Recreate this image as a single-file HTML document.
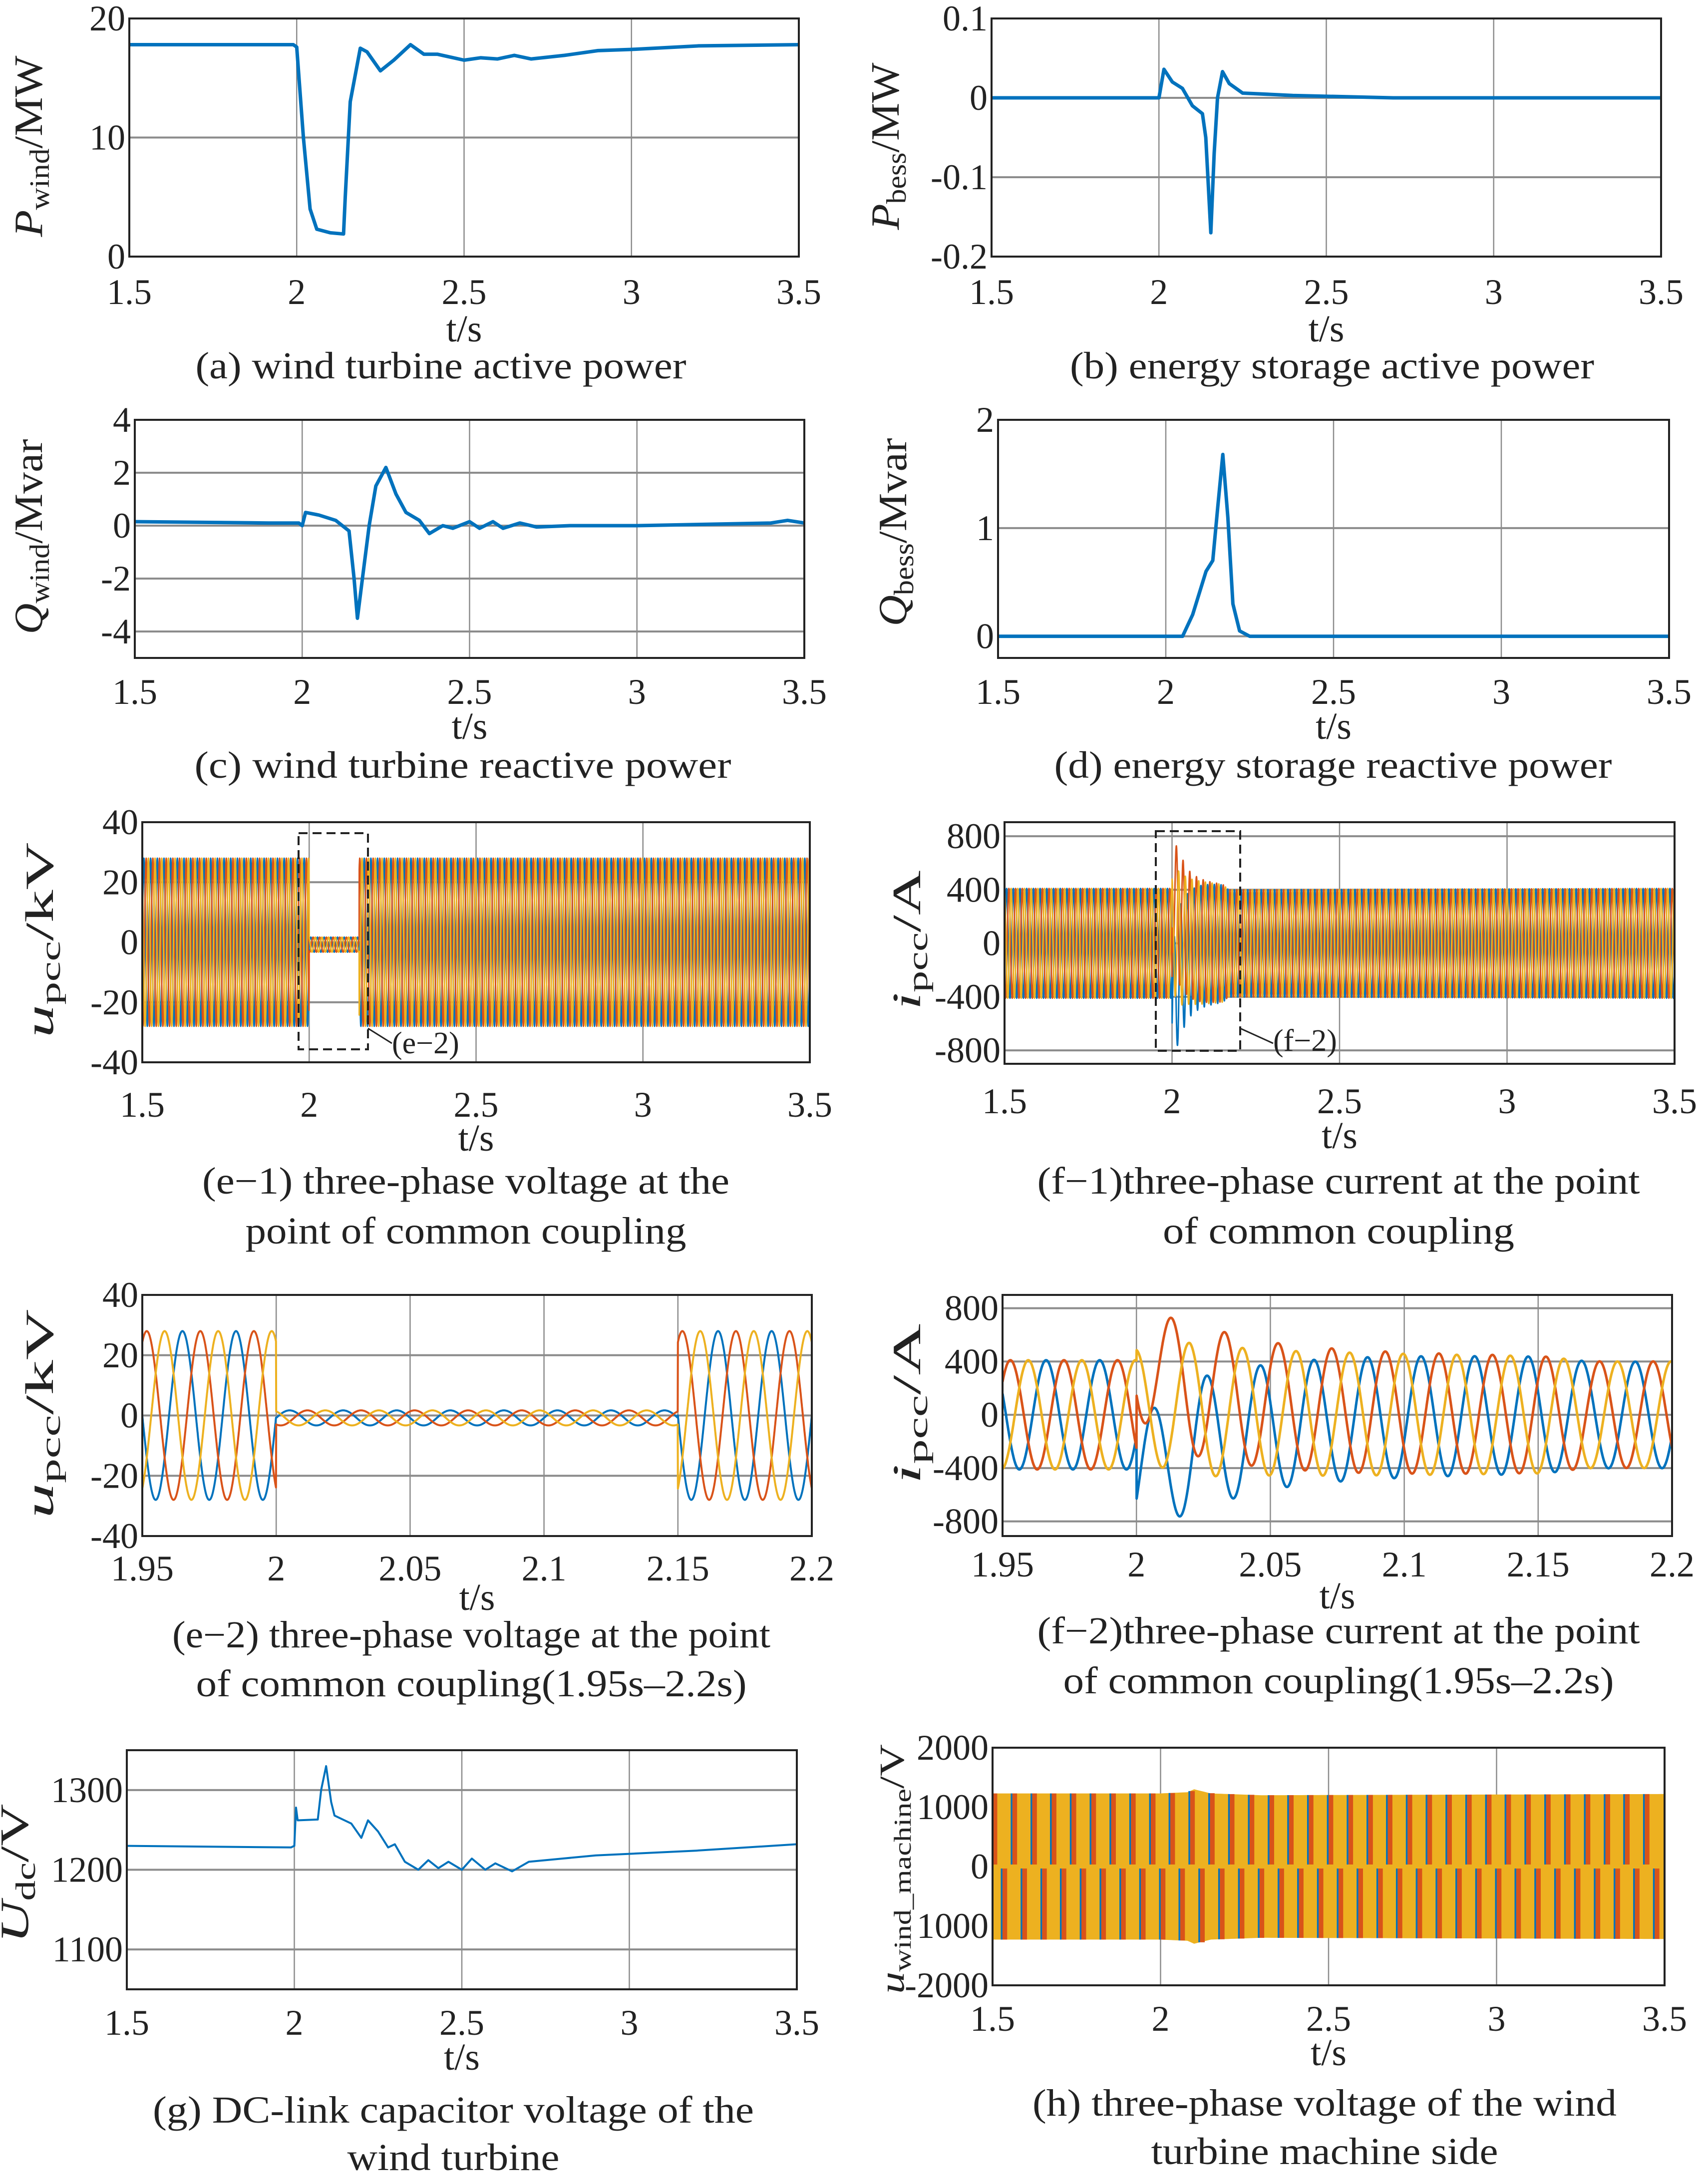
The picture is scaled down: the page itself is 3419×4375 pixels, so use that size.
<!DOCTYPE html>
<html><head><meta charset="utf-8"><title>Wind turbine fault response</title>
<style>
html,body{margin:0;padding:0;background:#fff;}
svg{display:block;font-family:"Liberation Serif",serif;}
</style></head>
<body>
<svg id="fig" width="3419" height="4375" viewBox="0 0 3419 4375" xmlns="http://www.w3.org/2000/svg"></svg>
<script>
// ---------- data ----------
const aT=[1.5,1.99,2.0,2.02,2.04,2.06,2.1,2.14,2.145,2.16,2.19,2.21,2.25,2.29,2.34,2.38,2.42,2.5,2.55,2.6,2.65,2.7,2.8,2.9,3.0,3.2,3.5];
const aV=[17.8,17.8,17.6,10,4,2.3,2.0,1.9,5,13,17.5,17.2,15.6,16.5,17.8,17.0,17.0,16.5,16.7,16.6,16.9,16.6,16.9,17.3,17.4,17.7,17.8];
const bT=[1.5,2.0,2.015,2.04,2.07,2.1,2.13,2.14,2.155,2.165,2.175,2.19,2.21,2.25,2.4,2.7,3.5];
const bV=[0,0,0.036,0.02,0.012,-0.01,-0.02,-0.05,-0.17,-0.07,0,0.033,0.018,0.006,0.003,0,0];
const cT=[1.5,1.9,1.99,2.0,2.01,2.05,2.1,2.14,2.155,2.165,2.18,2.2,2.22,2.25,2.28,2.31,2.35,2.38,2.42,2.45,2.5,2.53,2.57,2.6,2.65,2.7,2.8,3.0,3.4,3.45,3.5];
const cV=[0.15,0.1,0.1,0.0,0.5,0.4,0.2,-0.2,-2,-3.5,-2,0,1.5,2.2,1.2,0.5,0.2,-0.3,0,-0.1,0.15,-0.1,0.15,-0.1,0.1,-0.05,0,0,0.1,0.2,0.1];
const dT=[1.5,2.05,2.08,2.12,2.14,2.155,2.17,2.185,2.2,2.22,2.25,3.5];
const dV=[0,0,0.2,0.6,0.7,1.2,1.68,1.1,0.3,0.05,0,0];
const gT=[1.5,1.99,2.0,2.005,2.01,2.07,2.08,2.095,2.11,2.12,2.15,2.17,2.2,2.22,2.25,2.28,2.3,2.33,2.37,2.4,2.43,2.46,2.5,2.53,2.57,2.6,2.65,2.7,2.8,2.9,3.0,3.2,3.5];
const gV=[1230,1228,1230,1278,1262,1263,1300,1330,1285,1268,1262,1258,1240,1262,1248,1228,1232,1210,1200,1212,1202,1210,1200,1214,1200,1208,1198,1210,1214,1218,1220,1224,1232];
// three-phase voltage at PCC: amplitude per segment (kV)
const uSegT=[1.5,2.0,2.15];
const uSegA=[28,2.5,28];
const uOffset=[0,-0.8,0];
const phaseDeg=[0,120,240];
// PCC current envelope (A) and DC offsets at fault inception
const iEnvT=[1.5,2.0,2.02,2.05,2.15,2.17,3.5];
const iEnvA=[410,410,500,470,440,400,410];
const iDc=[-480,400,80];
// machine side voltage envelope (V)
const hT=[1.5,2.0,2.08,2.1,2.15,2.3,3.5];
const hA=[1230,1230,1250,1300,1230,1200,1220];
const hStripeT=[1.5,1.559,1.618,1.676,1.735,1.794,1.853,1.912,1.971,2.029,2.088,2.147,2.206,2.265,2.324,2.382,2.441,2.5,2.559,2.618,2.676,2.735,2.794,2.853,2.912,2.971,3.029,3.088,3.147,3.206,3.265,3.324,3.382,3.441];

const BLUE="#0072BD",ORANGE="#D95319",YELLOW="#EDB120";
const NS="http://www.w3.org/2000/svg";
const svg=document.getElementById('fig');
function mk(tag,attrs,parent){const e=document.createElementNS(NS,tag);for(const k in attrs)e.setAttribute(k,attrs[k]);(parent||svg).appendChild(e);return e;}
function interp(ts,vs,t){if(t<=ts[0])return vs[0];for(let i=1;i<ts.length;i++){if(t<=ts[i]){const f=(t-ts[i-1])/(ts[i]-ts[i-1]);return vs[i-1]+f*(vs[i]-vs[i-1]);}}return vs[vs.length-1];}
function step(ts,vs,t){let v=vs[0];for(let i=0;i<ts.length;i++){if(t>=ts[i])v=vs[i];}return v;}
function sx(p,t){return p.x0+(t-p.xmin)/(p.xmax-p.xmin)*(p.x1-p.x0);}
function sy(p,v){return p.y1-(v-p.ymin)/(p.ymax-p.ymin)*(p.y1-p.y0);}

function panel(p){
  const g=mk('g',{});
  
  
  p.g=g;
  const clipId='clip-'+p.name;
  const cp=mk('clipPath',{id:clipId},g);
  mk('rect',{x:p.x0,y:p.y0,width:p.x1-p.x0,height:p.y1-p.y0},cp);
  p.clip='url(#'+clipId+')';
  p.xticks.forEach(t=>{const l=mk('line',{x1:sx(p,t),x2:sx(p,t),y1:p.y0,y2:p.y1,stroke:'#8c8c8c','stroke-width':2.5},g);
    
    });
  p.yticks.forEach(v=>{const l=mk('line',{x1:p.x0,x2:p.x1,y1:sy(p,v),y2:sy(p,v),stroke:'#8c8c8c','stroke-width':4},g);
    
    });
  p.plotG=mk('g',{'clip-path':p.clip},g);
  
  
  return p;
}
function finish(p){
  const g=p.g;
  const box=mk('rect',{x:p.x0,y:p.y0,width:p.x1-p.x0,height:p.y1-p.y0,fill:'none',stroke:'#222','stroke-width':4},g);
  
  
  p.xticks.forEach((t,i)=>{const tx=mk('text',{x:sx(p,t),y:p.tickY,'font-size':72,'text-anchor':'middle',fill:'#222'},g);tx.textContent=p.xlabels[i];
    
    });
  p.yticks.forEach((v,i)=>{const tx=mk('text',{x:p.x0-8,y:sy(p,v)+24,'font-size':72,'text-anchor':'end',fill:'#222'},g);tx.textContent=p.ylabels[i];
    
    });
  const xt=mk('text',{x:(p.x0+p.x1)/2,y:p.tY,'font-size':76,'text-anchor':'middle',fill:'#222'},g);xt.textContent='t/s';
  
  
  p.caps.forEach((c,i)=>{const tx=mk('text',{x:c[0],y:c[1],'font-size':76,'text-anchor':'middle',fill:'#222',textLength:c[3],lengthAdjust:'spacingAndGlyphs'},g);tx.textContent=c[2];
    
    });
  const yl=mk('text',{x:0,y:0,'font-size':p.ylfs||80,'text-anchor':'middle',fill:'#222',transform:'translate('+p.yl[0]+','+p.yl[1]+') rotate(-90)',textLength:p.yl[2],lengthAdjust:'spacingAndGlyphs'},g);
  
  
  const t1=mk('tspan',{'font-style':'italic'},yl);t1.textContent=p.ysym;
  const t2=mk('tspan',{'font-size':(p.ylfs||80)*0.7,dy:14},yl);t2.textContent=p.ysub;
  const t3=mk('tspan',{dy:-14},yl);t3.textContent=p.yunit;
}
function line(p,ts,vs,color,w,name){
  let d='';for(let i=0;i<ts.length;i++){d+=(i?'L':'M')+sx(p,ts[i]).toFixed(1)+','+sy(p,vs[i]).toFixed(1);}
  const e=mk('path',{d:d,fill:'none',stroke:color,'stroke-width':w,'stroke-linejoin':'round'},p.plotG);
  
  
  return e;
}
function curve(p,fn,color,w,name,n){
  let d='';for(let i=0;i<=n;i++){const t=p.xmin+(p.xmax-p.xmin)*i/n;d+=(i?'L':'M')+sx(p,t).toFixed(1)+','+sy(p,fn(t)).toFixed(1);}
  const e=mk('path',{d:d,fill:'none',stroke:color,'stroke-width':w,'stroke-linejoin':'round'},p.plotG);
  
  
}
const X15=[1.5,2,2.5,3,3.5],X15L=['1.5','2','2.5','3','3.5'];
const w=2*Math.PI*50;
function uFn(k){return t=>step(uSegT,uSegA,t)*Math.sin(w*t-phaseDeg[k]*Math.PI/180)+step(uSegT,uOffset,t);}
function iFn(k){return t=>{let v=interp(iEnvT,iEnvA,t)*Math.sin(w*t-phaseDeg[k]*Math.PI/180-0.4);if(t>2.0)v+=iDc[k]*Math.exp(-(t-2.0)/0.03);return v;};}
const phaseColors=[BLUE,ORANGE,YELLOW],phaseNames=['phase-a-line','phase-b-line','phase-c-line'];

// (a)
let p=panel({name:'panel-a-wind-active-power',x0:259,x1:1600,y0:37,y1:514,xmin:1.5,xmax:3.5,ymin:0,ymax:20,xticks:X15,xlabels:X15L,yticks:[0,10,20],ylabels:['0','10','20'],tickY:609,tY:684,caps:[[883,758,'(a) wind turbine active power',983]],yl:[84,293,363],ysym:'P',ysub:'wind',yunit:'/MW'});
line(p,aT,aV,BLUE,7,'wind-power-line');finish(p);
// (b)
p=panel({name:'panel-b-bess-active-power',x0:1986,x1:3327,y0:37,y1:514,xmin:1.5,xmax:3.5,ymin:-0.2,ymax:0.1,xticks:X15,xlabels:X15L,yticks:[-0.2,-0.1,0,0.1],ylabels:['-0.2','-0.1','0','0.1'],tickY:609,tY:684,caps:[[2668,758,'(b) energy storage active power',1050]],yl:[1800,293,335],ysym:'P',ysub:'bess',yunit:'/MW'});
line(p,bT,bV,BLUE,7,'bess-power-line');finish(p);
// (c)
p=panel({name:'panel-c-wind-reactive-power',x0:270,x1:1611,y0:841,y1:1318,xmin:1.5,xmax:3.5,ymin:-5,ymax:4,xticks:X15,xlabels:X15L,yticks:[-4,-2,0,2,4],ylabels:['-4','-2','0','2','4'],tickY:1410,tY:1480,caps:[[927,1558,'(c)  wind turbine reactive power',1075]],yl:[84,1075,391],ysym:'Q',ysub:'wind',yunit:'/Mvar'});
line(p,cT,cV,BLUE,7,'wind-reactive-line');finish(p);
// (d)
p=panel({name:'panel-d-bess-reactive-power',x0:1999,x1:3343,y0:841,y1:1318,xmin:1.5,xmax:3.5,ymin:-0.2,ymax:2,xticks:X15,xlabels:X15L,yticks:[0,1,2],ylabels:['0','1','2'],tickY:1410,tY:1480,caps:[[2670,1558,'(d) energy storage reactive power',1117]],yl:[1815,1066,377],ysym:'Q',ysub:'bess',yunit:'/Mvar'});
line(p,dT,dV,BLUE,7,'bess-reactive-line');finish(p);
// (e-1)
p=panel({name:'panel-e1-pcc-voltage',x0:285,x1:1622,y0:1647,y1:2128,xmin:1.5,xmax:3.5,ymin:-40,ymax:40,xticks:X15,xlabels:X15L,yticks:[-40,-20,0,20,40],ylabels:['-40','-20','0','20','40'],tickY:2237,tY:2305,caps:[[933,2391,'(e\u22121) three-phase voltage at the',1056],[933,2491,'point of common coupling',883]],yl:[106,1883,391],ysym:'u',ysub:'pcc',yunit:'/kV'});
for(let k=0;k<3;k++)curve(p,uFn(k),phaseColors[k],3,phaseNames[k],6000);
finish(p);
let db=mk('rect',{x:598,y:1669,width:139,height:433,fill:'none',stroke:'#222','stroke-width':4,'stroke-dasharray':'18,10'});


let ll=mk('line',{x1:737,y1:2060,x2:785,y2:2090,stroke:'#222','stroke-width':3});


let lt=mk('text',{x:785,y:2110,'font-size':62,fill:'#222'});lt.textContent='(e\u22122)';


// (f-1)
p=panel({name:'panel-f1-pcc-current',x0:2012,x1:3354,y0:1647,y1:2131,xmin:1.5,xmax:3.5,ymin:-900,ymax:905,xticks:X15,xlabels:X15L,yticks:[-800,-400,0,400,800],ylabels:['-800','-400','0','400','800'],tickY:2230,tY:2300,caps:[[2681,2391,'(f\u22121)three-phase current at the point',1207],[2681,2491,'of common coupling',704]],yl:[1843,1883,279],ysym:'i',ysub:'pcc',yunit:'/A'});
for(let k=0;k<3;k++)curve(p,iFn(k),phaseColors[k],3,phaseNames[k],6000);
finish(p);
db=mk('rect',{x:2315,y:1665,width:169,height:440,fill:'none',stroke:'#222','stroke-width':4,'stroke-dasharray':'18,10'});


ll=mk('line',{x1:2484,y1:2060,x2:2550,y2:2090,stroke:'#222','stroke-width':3});


lt=mk('text',{x:2550,y:2105,'font-size':62,fill:'#222'});lt.textContent='(f\u22122)';


// (e-2)
const X2=[1.95,2,2.05,2.1,2.15,2.2],X2L=['1.95','2','2.05','2.1','2.15','2.2'];
p=panel({name:'panel-e2-pcc-voltage-zoom',x0:285,x1:1626,y0:2594,y1:3077,xmin:1.95,xmax:2.2,ymin:-40,ymax:40,xticks:X2,xlabels:X2L,yticks:[-40,-20,0,20,40],ylabels:['-40','-20','0','20','40'],tickY:3166,tY:3225,caps:[[944,3300,'(e\u22122) three-phase voltage at the point',1198],[944,3398,'of common coupling(1.95s\u20132.2s)',1103]],yl:[106,2832,419],ysym:'u',ysub:'pcc',yunit:'/kV'});
for(let k=0;k<3;k++)curve(p,uFn(k),phaseColors[k],4,phaseNames[k],3000);
finish(p);
// (f-2)
p=panel({name:'panel-f2-pcc-current-zoom',x0:2008,x1:3349,y0:2594,y1:3077,xmin:1.95,xmax:2.2,ymin:-910,ymax:900,xticks:X2,xlabels:X2L,yticks:[-800,-400,0,400,800],ylabels:['-800','-400','0','400','800'],tickY:3158,tY:3222,caps:[[2681,3292,'(f\u22122)three-phase current at the point',1207],[2681,3392,'of common coupling(1.95s\u20132.2s)',1103]],yl:[1843,2812,321],ysym:'i',ysub:'pcc',yunit:'/A'});
for(let k=0;k<3;k++)curve(p,iFn(k),phaseColors[k],5,phaseNames[k],3000);
finish(p);
// (g)
p=panel({name:'panel-g-dc-link-voltage',x0:254,x1:1596,y0:3506,y1:3985,xmin:1.5,xmax:3.5,ymin:1050,ymax:1350,xticks:X15,xlabels:X15L,yticks:[1100,1200,1300],ylabels:['1100','1200','1300'],tickY:4076,tY:4146,caps:[[908,4252,'(g) DC-link capacitor voltage of the',1204],[908,4347,'wind turbine',425]],yl:[56,3753,279],ysym:'U',ysub:'dc',yunit:'/V'});
line(p,gT,gV,BLUE,4,'dc-voltage-line');finish(p);
// (h)
p=panel({name:'panel-h-machine-voltage',x0:1988,x1:3334,y0:3501,y1:3977,xmin:1.5,xmax:3.5,ymin:-2000,ymax:2000,xticks:X15,xlabels:X15L,yticks:[-2000,-1000,0,1000,2000],ylabels:['-2000','1000','0','1000','2000'],tickY:4068,tY:4137,caps:[[2653,4238,'(h) three-phase voltage of the wind',1170],[2653,4335,'turbine machine side',695]],yl:[1810,3744,500],ylfs:70,ysym:'u',ysub:'wind_machine',yunit:'/V'});
(function(){
  let top='',bot='';const n=200;
  for(let i=0;i<=n;i++){const t=1.5+2*i/n;top+=(i?'L':'M')+sx(p,t).toFixed(1)+','+sy(p,interp(hT,hA,t)).toFixed(1);}
  for(let i=n;i>=0;i--){const t=1.5+2*i/n;bot+='L'+sx(p,t).toFixed(1)+','+sy(p,-interp(hT,hA,t)).toFixed(1);}
  const band=mk('path',{d:top+bot+'Z',fill:YELLOW},p.plotG);
  
  
  const dtS=hStripeT[1]-hStripeT[0];
  hStripeT.forEach((t0,i)=>{
    [[0,1],[0.5,-1]].forEach(([off,sgn])=>{
      const t=t0+off*dtS;
      const A=interp(hT,hA,t);
      const yA=sgn>0?sy(p,A):sy(p,0)+4,yB=sgn>0?sy(p,0)-4:sy(p,-A);
      const r=mk('rect',{x:sx(p,t),y:yA,width:(sx(p,t+0.014)-sx(p,t)),height:yB-yA,fill:ORANGE},p.plotG);
      
      
      const b=mk('rect',{x:sx(p,t-0.005),y:yA,width:(sx(p,t)-sx(p,t-0.005)),height:yB-yA,fill:BLUE},p.plotG);
      
      
    });
  });
})();
finish(p);
</script>
</body></html>
